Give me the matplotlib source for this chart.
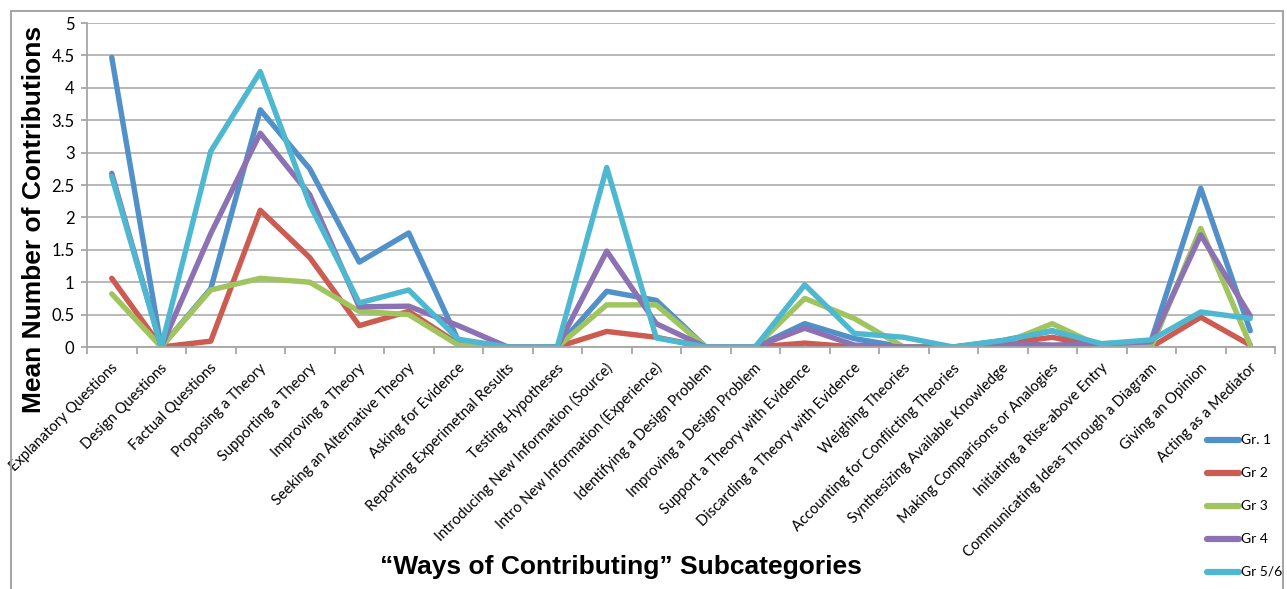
import numpy as np
import matplotlib
matplotlib.use('Agg')
import matplotlib.pyplot as plt
from matplotlib.patches import Rectangle
from matplotlib.lines import Line2D
from matplotlib.transforms import ScaledTranslation

#------------------------------------------------------------------------------
categories = ['Explanatory Questions', 'Design Questions', 'Factual Questions',
              'Proposing a Theory', 'Supporting a Theory', 'Improving a Theory',
              'Seeking an Alternative Theory', 'Asking for Evidence',
              'Reporting Experimetnal Results', 'Testing Hypotheses',
              'Introducing New Information (Source)',
              'Intro New Information (Experience)',
              'Identifying a Design Problem', 'Improving a Design Problem',
              'Support a Theory with Evidence',
              'Discarding a Theory with Evidence', 'Weighing Theories',
              'Accounting for Conflicting Theories',
              'Synthesizing Available Knowledge',
              'Making Comparisons or Analogies', 'Initiating a Rise-above Entry',
              'Communicating Ideas Through a Diagram', 'Giving an Opinion',
              'Acting as a Mediator']

gr1 = [4.47, 0, 0.90, 3.66, 2.75, 1.31, 1.76, 0.10, 0, 0, 0.86, 0.72,
       0, 0, 0.36, 0.13, 0, 0, 0.10, 0.25, 0, 0.10, 2.45, 0.25]
gr2 = [1.06, 0, 0.09, 2.11, 1.38, 0.33, 0.55, 0.05, 0, 0, 0.24, 0.15,
       0, 0, 0.06, 0, 0, 0, 0.05, 0.15, 0, 0, 0.46, 0.03]
gr3 = [0.82, 0, 0.88, 1.06, 1.00, 0.55, 0.50, 0.03, 0, 0, 0.65, 0.65,
       0, 0, 0.75, 0.44, 0, 0, 0.05, 0.36, 0, 0, 1.83, 0.03]
gr4 = [2.68, 0, 1.75, 3.30, 2.35, 0.62, 0.63, 0.33, 0, 0, 1.48, 0.36,
       0, 0, 0.29, 0.03, 0, 0, 0.05, 0.03, 0.05, 0.08, 1.73, 0.48]
gr56 = [2.63, 0, 3.02, 4.25, 2.20, 0.68, 0.88, 0.12, 0, 0, 2.77, 0.14,
        0, 0, 0.96, 0.21, 0.15, 0, 0.10, 0.25, 0.05, 0.11, 0.54, 0.44]

series_names = ['Gr. 1', 'Gr 2', 'Gr 3', 'Gr 4', 'Gr 5/6']
series_colors = ['#5190C8', '#CC5B52', '#A0C45E', '#8C72B3', '#4DB8D0']
#------------------------------------------------------------------------------

W, H = 1287, 589
fig = plt.figure(figsize=(W/100, H/100), dpi=100)
ax = fig.add_axes([87/W, 1-347/H, (1275-87)/W, (347-23)/H])

# chart area frame (bottom edge runs off the image)
fig.patches.append(Rectangle((11/W, -0.05), (1283-11)/W, (H-11)/H + 0.05,
                             transform=fig.transFigure, fill=False,
                             edgecolor='#A6A6A6', linewidth=1.5))

x = np.arange(len(categories))
for vals, name, col in zip([gr1, gr2, gr3, gr4, gr56], series_names, series_colors):
    ax.plot(x, vals, color=col, linewidth=3.9, label=name,
            solid_joinstyle='round', solid_capstyle='round')

ax.set_xlim(-0.5, len(categories) - 0.5)
ax.set_ylim(0, 5)
ax.set_yticks(np.arange(0, 5.01, 0.5))
ax.set_yticklabels(['0', '0.5', '1', '1.5', '2', '2.5', '3', '3.5', '4', '4.5', '5'],
                   fontsize=12, family='Lato')
ax.yaxis.grid(True, color='#B3B3B3', linewidth=1.3)
ax.set_axisbelow(True)

for s in ['top', 'right']:
    ax.spines[s].set_visible(False)
for s in ['left', 'bottom']:
    ax.spines[s].set_color('#A6A6A6')
    ax.spines[s].set_linewidth(1.3)

# tick marks sit on category boundaries, labels at the centres
ax.set_xticks(np.arange(-0.5, len(categories)), minor=False)
ax.set_xticklabels([])
ax.set_xticks(x, minor=True)
ax.set_xticklabels(categories, minor=True, rotation=45, ha='right',
                   va='center', rotation_mode='anchor', fontsize=10.5, family='Lato')
ax.tick_params(axis='x', which='major', length=5, color='#A6A6A6', width=1.3)
ax.tick_params(axis='x', which='minor', length=0, pad=0)
ax.tick_params(axis='y', length=4, color='#A6A6A6', width=1.3, pad=5)
off = ScaledTranslation(4/100, -19/100, fig.dpi_scale_trans)
for lab in ax.get_xticklabels(minor=True):
    lab.set_transform(lab.get_transform() + off)

fig.text(34/W, 1-219/H, 'Mean Number of Contributions', rotation=90,
         ha='center', va='center', fontsize=19, fontweight='bold',
         family='Liberation Sans')
fig.text(621/W, 1-567/H, '\u201cWays of Contributing\u201d Subcategories',
         ha='center', va='center', fontsize=19, fontweight='bold',
         family='Liberation Sans')

# legend entries stacked down the right edge
for i, (name, col) in enumerate(zip(series_names, series_colors)):
    ly = 1 - (440 + 33*i)/H
    fig.add_artist(Line2D([1207/W, 1239/W], [ly, ly], transform=fig.transFigure,
                          color=col, linewidth=4.5, solid_capstyle='round'))
    fig.text(1241/W, ly, name, ha='left', va='center', fontsize=10,
             family='Lato')

fig.savefig('out.png', dpi=100)
